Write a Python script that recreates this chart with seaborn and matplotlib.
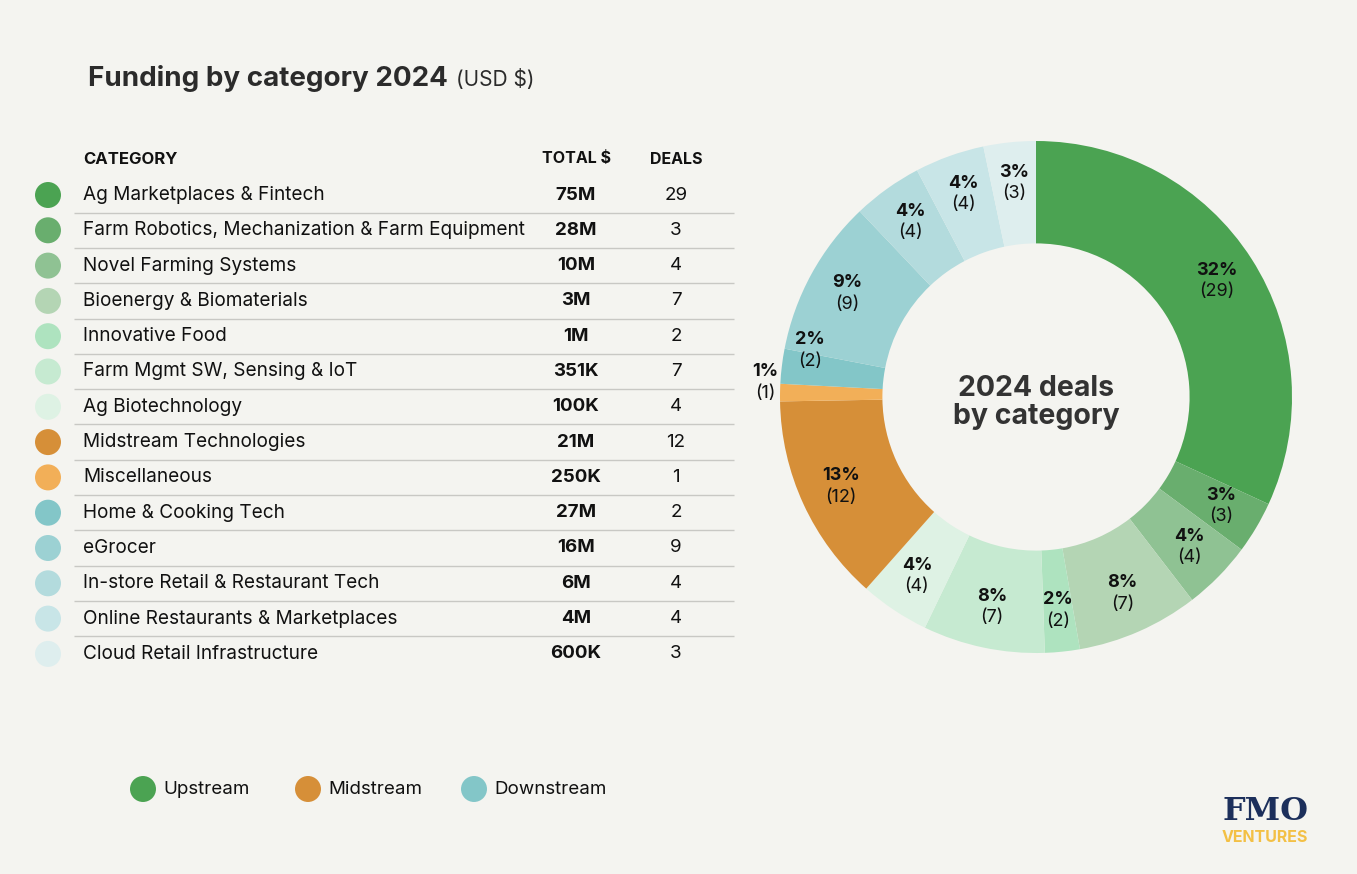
import numpy as np
import pandas as pd
import matplotlib
matplotlib.use('Agg')
from matplotlib import pyplot as plt
import seaborn as sns

# data
categories = ['Ag Marketplaces & Fintech', 'Farm Robotics, Mechanization & Farm Equipment',
              'Novel Farming Systems', 'Bioenergy & Biomaterials', 'Innovative Food',
              'Farm Mgmt SW, Sensing & IoT', 'Ag Biotechnology', 'Midstream Technologies',
              'Miscellaneous', 'Home & Cooking Tech', 'eGrocer', 'In-store Retail & Restaurant Tech',
              'Online Restaurants & Marketplaces', 'Cloud Retail Infrastructure']
totals = ['75M', '28M', '10M', '3M', '1M', '351K', '100K', '21M', '250K', '27M', '16M', '6M', '4M', '600K']
deals = [29, 3, 4, 7, 2, 7, 4, 12, 1, 2, 9, 4, 4, 3]
pct = [32, 3, 4, 8, 2, 8, 4, 13, 1, 2, 9, 4, 4, 3]
colors = ['#4ba352', '#69ae6e', '#8fc293', '#b4d5b4', '#aee3bf', '#c6ead1', '#def2e4',
          '#d68f38', '#f2af58', '#83c6c8', '#9cd1d3', '#b3dbdd', '#c8e5e7', '#deeeee']
streams = ['Upstream', 'Midstream', 'Downstream']
stream_colors = ['#4ba352', '#d68f38', '#83c6c8']

sns.set_theme(style='white')
plt.rcParams['font.family'] = ['Inter', 'DejaVu Sans']
bg = '#f4f4f0'
W, H = 1357, 874

fig = plt.figure(figsize=(W/100, H/100), dpi=100, facecolor=bg)
ax0 = fig.add_axes([0, 0, 1, 1])

# table dots
row_y = 195 + 35.3 * np.arange(len(categories))
tab = pd.DataFrame({'cat': categories, 'x': 48, 'y': row_y})
sns.scatterplot(data=tab, x='x', y='y', hue='cat', palette=colors, s=350, linewidth=0,
                legend=False, ax=ax0)

# legend dots
leg = pd.DataFrame({'s': streams, 'x': [143, 308, 474], 'y': 789})
sns.scatterplot(data=leg, x='x', y='y', hue='s', palette=stream_colors, s=350, linewidth=0,
                legend=False, ax=ax0)
ax0.set_xlim(0, W)
ax0.set_ylim(H, 0)
ax0.axis('off')

# title
t = ax0.text(88, 86, 'Funding by category 2024', fontsize=20, fontweight='bold', color='#2b2b2b', va='baseline')
fig.canvas.draw()
bb = t.get_window_extent()
x_end = ax0.transData.inverted().transform((bb.x1, bb.y0))[0]
ax0.text(x_end + 8, 86, '(USD $)', fontsize=15, color='#2b2b2b', va='baseline')

# table text
ax0.text(83, 159, 'CATEGORY', fontsize=12, fontweight='bold', color='#111111', va='center')
ax0.text(576, 159, 'TOTAL $', fontsize=11.5, fontweight='bold', color='#111111', va='center', ha='center')
ax0.text(676, 159, 'DEALS', fontsize=11.5, fontweight='bold', color='#111111', va='center', ha='center')
for y, c, tot, d in zip(row_y, categories, totals, deals):
    ax0.text(83, y, c, fontsize=13.7, color='#111111', va='center')
    ax0.text(576, y, tot, fontsize=13.5, fontweight='bold', color='#111111', va='center', ha='center')
    ax0.text(676, y, str(d), fontsize=13.5, color='#111111', va='center', ha='center')
ax0.hlines(row_y[:-1] + 17.6, 74, 734, color='#c8c8c4', lw=1)

for x, s in zip(leg['x'], streams):
    ax0.text(x + 20, 789, s, fontsize=13.5, color='#111111', va='center')

# logo
ax0.text(1265, 811, 'FMO', fontsize=23, fontweight='bold', family='DejaVu Serif',
         color='#1c2f5b', ha='center', va='center')
ax0.text(1265, 838, 'VENTURES', fontsize=11.5, fontweight='bold', color='#f3c045',
         ha='center', va='center')

# donut
cx, cy, R = 1036, 397, 256
ax1 = fig.add_axes([(cx - R) / W, (H - cy - R) / H, 2 * R / W, 2 * R / H])
ax1.set_facecolor('none')
wedges, _ = ax1.pie(deals, colors=colors, startangle=90, counterclock=False, radius=1,
                    wedgeprops=dict(width=0.4, linewidth=0))
ax1.set_xlim(-1, 1)
ax1.set_ylim(-1, 1)
ax1.axis('off')

lab_r = {'Miscellaneous': 1.06, 'Home & Cooking Tech': 0.90}
lab_shift = {'Miscellaneous': -2.0, 'Home & Cooking Tech': -4.6}
for w, c, p, d in zip(wedges, categories, pct, deals):
    ang = np.deg2rad((w.theta1 + w.theta2) / 2 + lab_shift.get(c, 0))
    r = lab_r.get(c, 0.84)
    x, y = r * np.cos(ang), r * np.sin(ang)
    ax1.text(x, y + 0.043, f'{p}%', fontsize=13, fontweight='bold', color='#111111',
             ha='center', va='center')
    ax1.text(x, y - 0.040, f'({d})', fontsize=13, color='#111111', ha='center', va='center')

ax1.text(0, -0.023, '2024 deals\nby category', fontsize=20.5, fontweight='bold', color='#333333',
         ha='center', va='center', linespacing=1.05)

fig.savefig('out.png', dpi=100, facecolor=bg)
